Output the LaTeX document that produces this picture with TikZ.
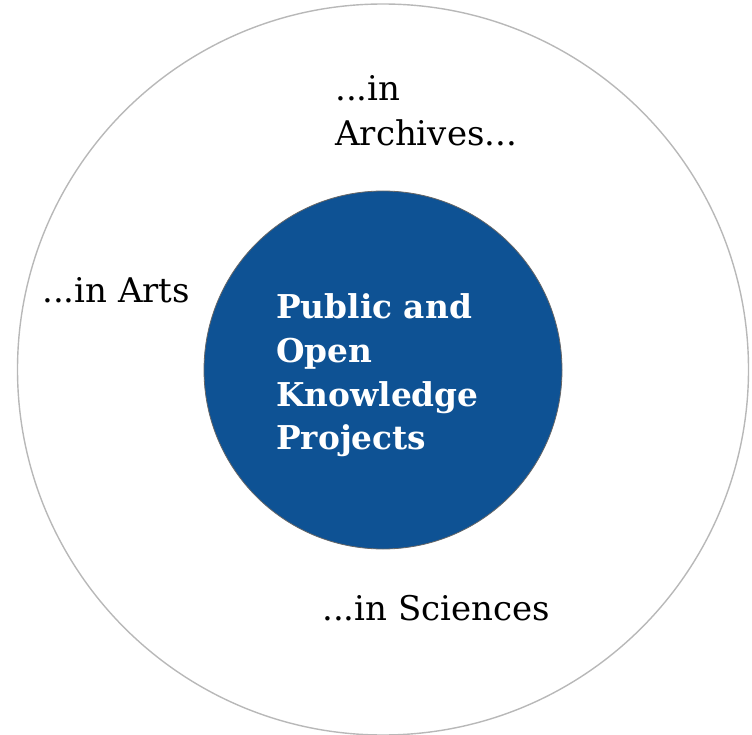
\documentclass[tikz,border=0pt]{standalone}
\usepackage{fontspec}
\setmainfont{DejaVu Serif}
\definecolor{inblue}{HTML}{0E5294}
\begin{document}
\begin{tikzpicture}[x=1pt,y=-1pt,
  outerlbl/.style={anchor=base west,inner sep=0pt,font=\fontsize{34}{40}\selectfont,text=black},
  innerlbl/.style={anchor=base west,inner sep=0pt,font=\fontsize{32.8}{38}\bfseries\selectfont,text=white}]
\useasboundingbox (0,0) rectangle (752,735);
\draw[draw=black!28,line width=1.4pt] (383,369.5) circle (365.5);
\draw[fill=inblue,draw=black!60,line width=0.8pt] (383,370) circle (179);
\node[outerlbl] (a1) at (335,101) {...in};
\node[outerlbl] (a2) at (335,146) {Archives...};
\node[outerlbl] (arts) at (42,302) {...in Arts};
\node[outerlbl] (sci) at (322,620) {...in Sciences};
\node[innerlbl] (p1) at (276,318) {Public and};
\node[innerlbl] (p2) at (276,362) {Open};
\node[innerlbl] (p3) at (276,406) {Knowledge};
\node[innerlbl] (p4) at (276,449) {Projects};
\end{tikzpicture}
\end{document}
